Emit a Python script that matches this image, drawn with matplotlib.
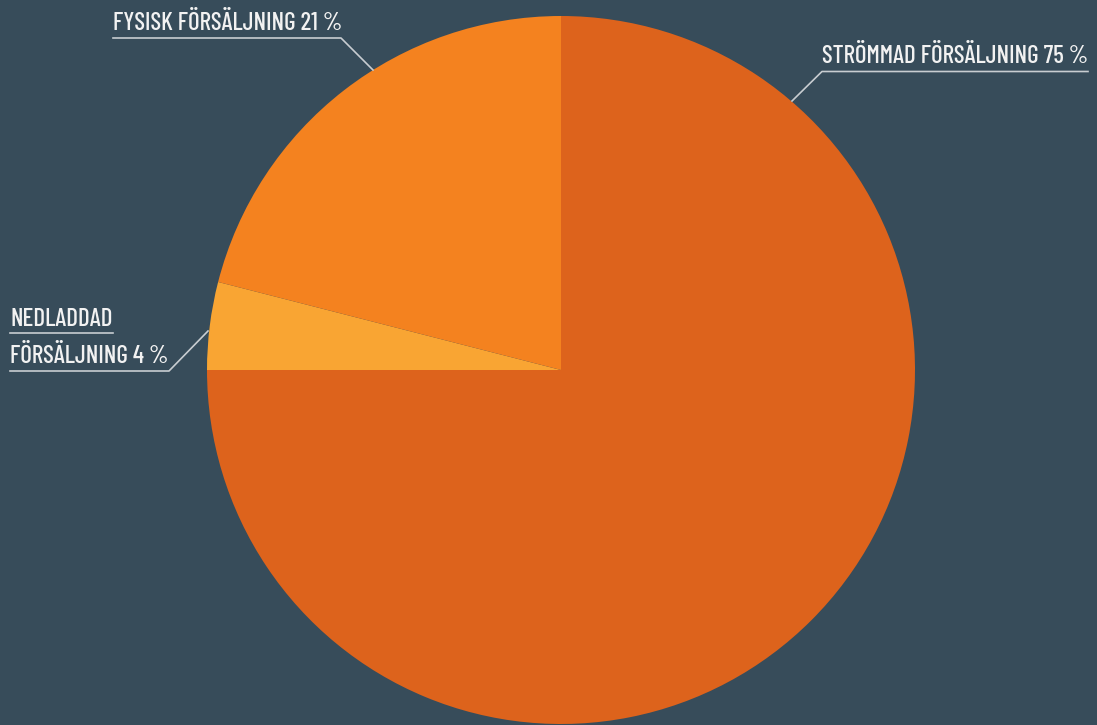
import matplotlib
matplotlib.use("Agg")
import matplotlib.pyplot as plt

# data
labels = ["STRÖMMAD FÖRSÄLJNING 75 %", "NEDLADDAD\nFÖRSÄLJNING 4 %", "FYSISK FÖRSÄLJNING 21 %"]
values = [75, 4, 21]
colors = ["#DD631C", "#F9A533", "#F4821F"]

bg = "#374C5A"
W, H = 1097, 725
fig = plt.figure(figsize=(W / 100, H / 100), dpi=100, facecolor=bg)
ax = fig.add_axes([0, 0, 1, 1])
ax.set_facecolor(bg)

cx, cy, r = 561, H - 370, 354
ax.pie(values, colors=colors, startangle=90, counterclock=False,
       center=(cx, cy), radius=r, frame=True,
       wedgeprops=dict(linewidth=0))
ax.set_xlim(0, W)
ax.set_ylim(0, H)
ax.set_aspect("equal")
ax.axis("off")

font = dict(family=["Barlow Condensed", "DejaVu Sans"], weight="medium",
            color="#F2F2F2", fontsize=18.1)
line = dict(color="#C8CDD1", lw=1.2)

# strömmad
ax.text(822, H - 63, labels[0], ha="left", va="baseline", **font)
ax.plot([1088, 822, 792], [H - 71.5, H - 71.5, H - 101], **line)

# fysisk
ax.text(113, H - 30, labels[2], ha="left", va="baseline", **font)
ax.plot([113, 341, 373], [H - 38, H - 38, H - 70], **line)

# nedladdad
top, bottom = labels[1].split("\n")
ax.text(10, H - 326, top, ha="left", va="baseline", **font)
ax.plot([10, 113], [H - 333, H - 333], **line)
ax.text(10, H - 363, bottom, ha="left", va="baseline", **font)
ax.plot([10, 169, 208], [H - 371, H - 371, H - 331], **line)

fig.savefig("out.png", dpi=100, facecolor=bg)
